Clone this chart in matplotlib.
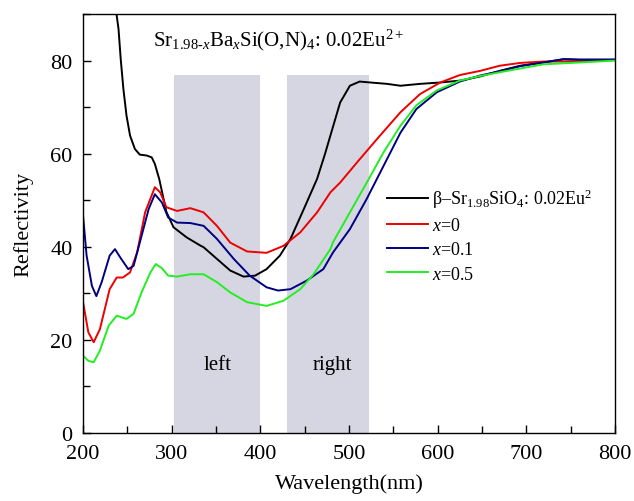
import numpy as np
import matplotlib.pyplot as plt
from matplotlib.ticker import MultipleLocator

plt.rcParams['font.family'] = ['Liberation Serif', 'DejaVu Serif']
plt.rcParams['mathtext.fontset'] = 'custom'
plt.rcParams['mathtext.rm'] = 'Liberation Serif'
plt.rcParams['mathtext.it'] = 'Liberation Serif:italic'

# beta-Sr1.98SiO4 reference
wl_ref = [231, 237, 240, 242.5, 245.5, 249, 253, 258.5, 264, 272, 277.5, 281, 286, 290, 294, 302, 317,
          332, 336, 351, 366, 381, 394, 407, 422, 434, 449, 464, 473, 479, 490, 501, 512, 524, 543,
          558, 580, 603, 625, 648, 670, 693, 719, 742, 760, 800]
r_ref = [100, 91, 86.8, 80.3, 73.9, 68.2, 63.9, 61.0, 59.8, 59.6, 59.2, 57.8, 54.5, 51.0, 47.5, 44.2,
         42.0, 40.3, 39.9, 37.4, 34.9, 33.6, 33.8, 35.2, 38.1, 41.7, 48.1, 54.6, 60.0, 63.9, 71.0,
         74.6, 75.5, 75.3, 75.0, 74.6, 75.0, 75.3, 75.7, 76.6, 77.8, 78.9, 79.6, 80.3, 80.2, 80.2]

# x = 0
wl_x0 = [200, 206, 212, 219, 230, 238, 245, 253, 261, 270, 281, 287, 294, 306, 321, 336, 351, 366,
         385, 407, 426, 445, 464, 479, 490, 512, 535, 558, 580, 603, 625, 648, 670, 693, 719, 760, 800]
r_x0 = [28.1, 21.6, 19.5, 22.3, 30.9, 33.4, 33.4, 34.5, 38.8, 47.4, 52.8, 51.7, 48.5, 47.7, 48.3, 47.4,
        44.5, 40.9, 39.0, 38.7, 40.2, 43.1, 47.4, 51.7, 53.8, 58.8, 63.9, 68.9, 72.8, 75.3, 76.9,
        77.8, 78.9, 79.5, 79.8, 79.8, 80.2]

# x = 0.1
wl_x01 = [200, 204, 210, 215, 221, 230, 236, 242, 251, 257, 264, 274, 281, 289, 296, 306, 321, 336,
          351, 370, 388, 407, 420, 434, 452, 471, 482, 501, 520, 539, 558, 576, 599, 625, 648, 670,
          693, 719, 742, 760, 800]
r_x01 = [46.7, 38.1, 31.6, 29.4, 32.4, 38.1, 39.5, 37.7, 35.2, 35.9, 40.9, 48.1, 51.3, 49.5, 46.3,
         45.2, 45.1, 44.5, 41.7, 37.4, 33.8, 31.3, 30.6, 30.9, 32.7, 35.2, 38.8, 43.8, 50.3, 57.4,
         64.5, 69.6, 73.2, 75.5, 76.8, 77.7, 78.8, 79.6, 80.3, 80.2, 80.2]

# x = 0.5
wl_x05 = [200, 206, 212, 219, 229, 238, 249, 257, 266, 276, 282, 289, 296, 306, 321, 336, 351, 366,
          385, 407, 426, 445, 460, 479, 482, 501, 520, 539, 558, 576, 599, 625, 648, 670, 693, 719,
          760, 800]
r_x05 = [16.6, 15.5, 15.2, 17.7, 23.1, 25.2, 24.5, 25.6, 30.2, 34.5, 36.3, 35.4, 33.8, 33.6, 34.1,
         34.1, 32.4, 30.2, 28.1, 27.3, 28.4, 30.9, 34.1, 39.5, 41.0, 47.4, 53.8, 60.3, 66.0, 70.4,
         73.6, 75.7, 76.7, 77.5, 78.3, 79.2, 79.6, 80.0]

regions = [(303, 400), (430, 522)]
region_top = 77
region_labels = ['left', 'right']
region_label_x = [352, 481]

fig = plt.figure(figsize=(6.34, 5.02), dpi=100)
ax = fig.add_axes([0.131, 0.1355, 0.839, 0.8345])

for (x0, x1) in regions:
    ax.fill_between([x0, x1], 0, region_top, color='#d6d6e3', lw=0, zorder=0)
for lab, lx in zip(region_labels, region_label_x):
    ax.text(lx, 14.8, lab, fontsize=15, ha='center', va='center')

ax.plot(wl_ref, r_ref, color='black', lw=1.4, label=r'β–Sr$_{1.98}$SiO$_4$: 0.02Eu$^{2}$')
ax.plot(wl_x0, r_x0, color='#ee0000', lw=1.4, label=r'$\mathit{x}$=0')
ax.plot(wl_x01, r_x01, color='#000080', lw=1.4, label=r'$\mathit{x}$=0.1')
ax.plot(wl_x05, r_x05, color='#22ee22', lw=1.4, label=r'$\mathit{x}$=0.5')

ax.text(279, 84.6, r'Sr$_{\mathrm{1.98\text{-}}\mathit{x}}$Ba$_{\mathit{x}}$Si(O,N)$_4$: 0.02Eu$^{2+}$',
        fontsize=15, ha='left', va='center')

ax.set_xlim(200, 800)
ax.set_ylim(0, 90)
ax.xaxis.set_major_locator(MultipleLocator(100))
ax.xaxis.set_minor_locator(MultipleLocator(50))
ax.yaxis.set_major_locator(MultipleLocator(20))
ax.yaxis.set_minor_locator(MultipleLocator(10))
ax.tick_params(which='both', direction='in', top=False, right=False, labelsize=16, width=1.0)
ax.tick_params(which='major', length=6)
ax.tick_params(which='minor', length=5)
ax.tick_params(axis='x', which='both', pad=8)
ax.tick_params(axis='y', which='both', pad=7.5)
for s in ax.spines.values():
    s.set_linewidth(1.0)

ax.set_xlabel('Wavelength(nm)', fontsize=16, labelpad=7)
ax.set_ylabel('Reflectivity', fontsize=16, labelpad=12)

ax.legend(loc='upper left', bbox_to_anchor=(0.571, 0.588), frameon=False, fontsize=13,
          handlelength=2.3, handletextpad=0.2, labelspacing=0.4, borderpad=0, borderaxespad=0)

fig.savefig('out.png', dpi=100)
